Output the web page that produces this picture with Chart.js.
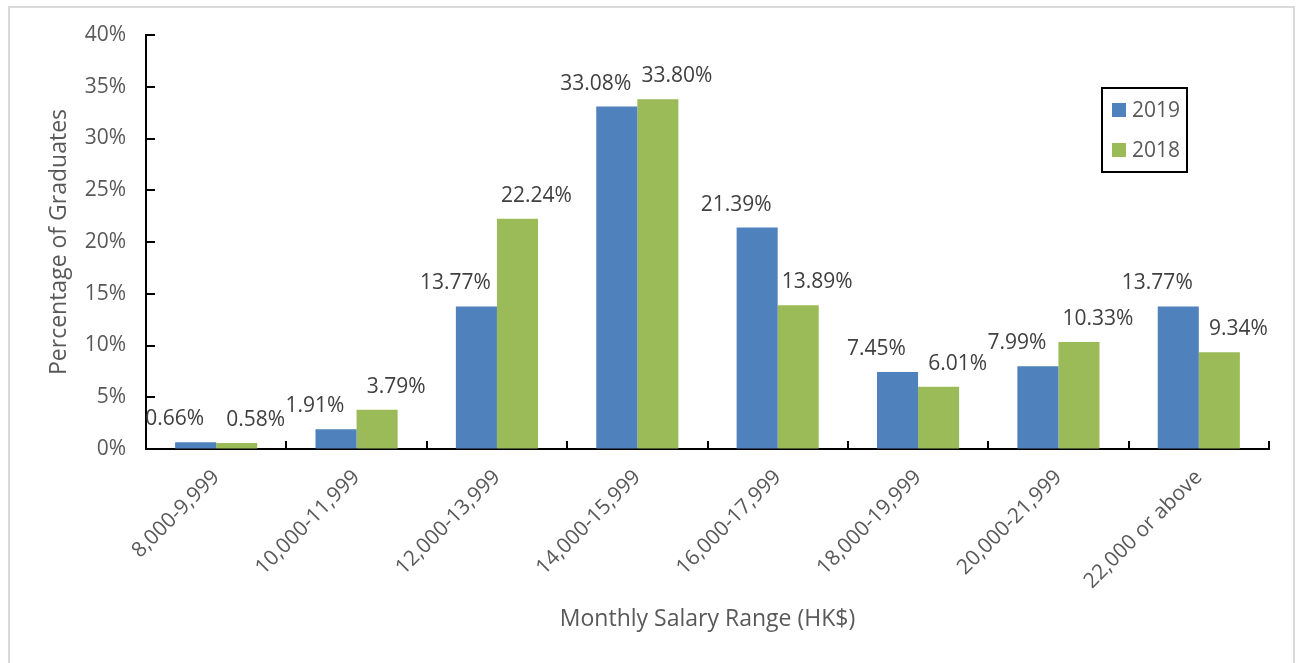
<!DOCTYPE html>
<html>
<head>
<meta charset="utf-8">
<script src="https://cdn.jsdelivr.net/npm/chart.js@4/dist/chart.umd.min.js"></script>
<style>
  html, body { margin: 0; padding: 0; background: #fff; overflow: hidden; }
  #wrap { position: relative; width: 1298px; height: 663px; }
  #frame { position: absolute; left: 8px; top: 6px; width: 1287px; height: 700px; border: 2px solid #d9d9d9; box-sizing: border-box; pointer-events: none; }
  canvas { position: absolute; left: 0; top: 0; }
</style>
</head>
<body>
<div id="wrap">
  <canvas id="c" width="1298" height="663"></canvas>
  <div id="frame"></div>
</div>
<script>
const categories = ["8,000-9,999", "10,000-11,999", "12,000-13,999", "14,000-15,999", "16,000-17,999", "18,000-19,999", "20,000-21,999", "22,000 or above"];
const values2019 = [0.66, 1.91, 13.77, 33.08, 21.39, 7.45, 7.99, 13.77];
const values2018 = [0.58, 3.79, 22.24, 33.80, 13.89, 6.01, 10.33, 9.34];
const seriesNames = ["2019", "2018"];
const seriesColors = ["#4f81bd", "#9bbb59"];
const yTicks = [0, 5, 10, 15, 20, 25, 30, 35, 40];

const FONT = "'Open Sans', sans-serif";

const overlay = {
  id: 'overlay',
  afterDraw(chart) {
    const ctx = chart.ctx;
    const area = chart.chartArea;
    const xs = chart.scales.x, ys = chart.scales.y;
    ctx.save();
    // inside tick marks
    ctx.strokeStyle = '#000';
    ctx.lineWidth = 2;
    yTicks.forEach(v => {
      const py = Math.round(ys.getPixelForValue(v));
      ctx.beginPath();
      ctx.moveTo(area.left, py);
      ctx.lineTo(area.left + 9, py);
      ctx.stroke();
    });
    const n = categories.length;
    for (let i = 0; i <= n; i++) {
      let px;
      if (i === 0) px = area.left;
      else if (i === n) px = area.right;
      else px = (xs.getPixelForValue(i - 1) + xs.getPixelForValue(i)) / 2;
      px = Math.round(px);
      ctx.beginPath();
      ctx.moveTo(px, area.bottom);
      ctx.lineTo(px, area.bottom - 8);
      ctx.stroke();
    }
    // data labels
    ctx.font = "21px " + FONT;
    ctx.fillStyle = '#404040';
    ctx.textAlign = 'center';
    ctx.textBaseline = 'alphabetic';
    chart.data.datasets.forEach((ds, di) => {
      const meta = chart.getDatasetMeta(di);
      meta.data.forEach((bar, i) => {
        const off = di === 0 ? -21 : 19;
        ctx.fillText(ds.data[i].toFixed(2) + '%', bar.x + off, bar.y - 17);
      });
    });
    // legend
    const lx = 1102, ly = 88, lw = 85, lh = 84;
    ctx.lineWidth = 2;
    ctx.strokeStyle = '#000';
    ctx.fillStyle = '#fff';
    ctx.fillRect(lx, ly, lw, lh);
    ctx.strokeRect(lx, ly, lw, lh);
    ctx.textAlign = 'left';
    ctx.textBaseline = 'middle';
    ctx.font = "21px " + FONT;
    chart.data.datasets.forEach((ds, di) => {
      const cy = 110 + di * 40;
      ctx.fillStyle = ds.backgroundColor;
      ctx.fillRect(1112, cy - 7, 14, 14);
      ctx.fillStyle = '#595959';
      ctx.fillText(ds.label, 1132, cy + 1);
    });
    ctx.restore();
  }
};

new Chart(document.getElementById('c'), {
  type: 'bar',
  data: {
    labels: categories,
    datasets: [
      { label: seriesNames[0], data: values2019, backgroundColor: seriesColors[0] },
      { label: seriesNames[1], data: values2018, backgroundColor: seriesColors[1] }
    ]
  },
  options: {
    responsive: false,
    animation: false,
    devicePixelRatio: 1,
    layout: { padding: { left: 42, top: 35, right: 29, bottom: 26 } },
    plugins: { legend: { display: false }, tooltip: { enabled: false } },
    datasets: { bar: { categoryPercentage: 0.585, barPercentage: 1.0 } },
    scales: {
      x: {
        grid: { display: true, drawOnChartArea: false, drawTicks: false },
        border: { display: true, color: '#000', width: 2 },
        ticks: { color: '#595959', font: { family: FONT, size: 21 }, maxRotation: 45, minRotation: 45, padding: 16, autoSkip: false },
        title: { display: true, text: 'Monthly Salary Range (HK$)', color: '#595959', font: { family: FONT, size: 23 } },
        afterFit(scale) { scale.height = 663 - 449 - 26; }
      },
      y: {
        min: 0, max: 40,
        afterBuildTicks(scale) { scale.ticks = yTicks.map(v => ({ value: v })); },
        grid: { display: true, drawOnChartArea: false, drawTicks: false },
        border: { display: true, color: '#000', width: 2 },
        ticks: { color: '#595959', font: { family: FONT, size: 21 }, padding: 20, callback: v => v + '%' },
        title: { display: true, text: 'Percentage of Graduates', color: '#595959', font: { family: FONT, size: 23 } },
        afterFit(scale) { scale.width = 146 - 42; }
      }
    }
  },
  plugins: [overlay]
});
</script>
</body>
</html>
